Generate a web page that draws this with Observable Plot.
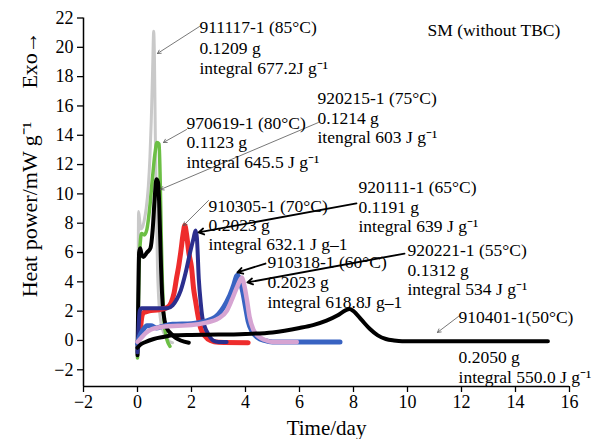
<!DOCTYPE html>
<html>
<head>
<meta charset="utf-8">
<script src="https://cdn.jsdelivr.net/npm/d3@7"></script>
<script src="https://cdn.jsdelivr.net/npm/@observablehq/plot@0.6"></script>
<style>
  html, body { margin: 0; padding: 0; background: #fff; }
  #chart { width: 604px; height: 439px; }
  #chart svg, #chart svg text { font-family: "Liberation Serif", "Times New Roman", serif !important; }
</style>
</head>
<body>
<div id="chart"></div>
<script>
// ---- Data ----
const xTicks = [-2, 0, 2, 4, 6, 8, 10, 12, 14, 16];
const yTicks = [-2, 0, 2, 4, 6, 8, 10, 12, 14, 16, 18, 20, 22];
const xDomain = [-2, 16];
const yDomain = [-3.14, 22];

// 911117-1 (85°C) grey
const s85 = [[0,-1.0],[0.02,3],[0.04,8.8],[0.08,8.2],[0.12,7.6],[0.18,7.7],[0.25,8.2],[0.32,9.0],[0.4,10.5],[0.46,12.5],[0.51,15],[0.56,18.5],[0.6,21.1],[0.63,19],[0.66,14],[0.7,9],[0.74,5],[0.78,3],[0.84,1.6],[0.92,0.8],[1.0,0.4],[1.1,0.1],[1.2,-0.1],[1.3,-0.15]];
// 970619-1 (80°C) green
const s80 = [[0,-1.2],[0.03,2],[0.06,5],[0.1,6.6],[0.15,7.3],[0.25,7.2],[0.35,7.6],[0.45,9],[0.55,11],[0.65,12.8],[0.72,13.5],[0.8,13.4],[0.84,11],[0.88,7],[0.92,4],[0.96,2],[1.0,1.0],[1.05,0.4],[1.1,0],[1.2,-0.4]];
// 920215-1 (75°C) black
const s75 = [[0,-1.0],[0.03,3],[0.06,6.0],[0.1,6.3],[0.15,5.9],[0.22,5.7],[0.35,6.0],[0.48,6.3],[0.56,7.5],[0.63,9.5],[0.7,11.0],[0.76,10.8],[0.8,9.5],[0.84,7],[0.88,4.5],[0.93,2.5],[1.0,1.4],[1.1,0.8],[1.22,0.5],[1.4,0.2],[1.6,0.0],[1.9,-0.15]];
// 910305-1 (70°C) red
const s70 = [[0.1,0.5],[0.15,1.5],[0.22,1.9],[0.4,2.0],[0.8,2.1],[1.1,2.25],[1.25,2.6],[1.35,3.2],[1.45,4.3],[1.52,5.0],[1.6,6.0],[1.7,7.4],[1.75,7.85],[1.82,7.2],[1.9,6.0],[2.0,5.0],[2.08,3.5],[2.15,2.7],[2.25,1.6],[2.33,0.9],[2.5,0.3],[2.7,0.0],[3.0,-0.12],[4.1,-0.15]];
// 920111-1 (65°C) navy
const s65 = [[0,-0.8],[0.03,0.5],[0.08,2.0],[0.15,2.2],[0.5,2.2],[1.1,2.2],[1.3,2.4],[1.45,2.8],[1.6,3.4],[1.78,4.6],[1.96,6.1],[2.08,7.0],[2.15,7.5],[2.2,7.0],[2.27,4.2],[2.34,2.6],[2.4,1.6],[2.5,0.9],[2.6,0.5],[2.8,0.0],[3.0,-0.1],[3.3,-0.1]];
// 910318-1 (60°C) medium blue
const s60 = [[0,-0.2],[0.08,0.3],[0.2,0.7],[0.35,1.0],[0.5,1.0],[0.7,0.85],[0.9,0.95],[1.3,1.1],[2.0,1.15],[2.5,1.3],[2.8,1.5],[3.0,1.8],[3.2,2.3],[3.4,3.0],[3.55,3.7],[3.7,4.45],[3.8,4.1],[3.9,3.3],[4.0,2.3],[4.1,1.3],[4.25,0.6],[4.45,0.2],[4.7,0.0],[5.0,-0.1],[7.5,-0.1]];
// 920221-1 (55°C) pink
const s55 = [[0,-0.1],[0.15,0.2],[0.3,0.5],[0.5,0.75],[0.7,0.85],[1.0,0.95],[1.5,1.0],[2.0,1.05],[2.5,1.2],[3.0,1.5],[3.3,2.0],[3.5,2.8],[3.7,3.7],[3.87,4.3],[3.95,3.8],[4.05,2.8],[4.15,1.6],[4.3,0.7],[4.5,0.25],[4.7,0.05],[5.0,-0.1],[5.9,-0.1]];
// 910401-1 (50°C) black
const s50 = [[0,-0.5],[0.1,-0.3],[0.3,-0.1],[0.6,0.1],[1.0,0.25],[1.3,0.35],[2.0,0.38],[3.0,0.4],[4.0,0.45],[5.0,0.55],[6.0,0.85],[6.5,1.05],[7.0,1.35],[7.4,1.7],[7.7,2.05],[7.85,2.15],[8.0,2.0],[8.3,1.4],[8.6,0.8],[8.9,0.35],[9.2,0.1],[9.5,0.0],[9.8,-0.05],[15.2,-0.05]];

// annotation text lines
const annoLines = [
  {x: 2.296, y: 21.35, text: "911117-1 (85°C)"},
  {x: 2.296, y: 19.95, text: "0.1209 g"},
  {x: 2.296, y: 18.55, text: "integral 677.2J g⁻¹"},
  {x: 10.74, y: 21.15, text: "SM (without TBC)"},
  {x: 1.815, y: 14.82, text: "970619-1 (80°C)"},
  {x: 1.815, y: 13.53, text: "0.1123 g"},
  {x: 1.815, y: 12.16, text: "integral 645.5 J g⁻¹"},
  {x: 6.667, y: 16.51, text: "920215-1 (75°C)"},
  {x: 6.667, y: 15.14, text: "0.1214 g"},
  {x: 6.667, y: 13.85, text: "itengral 603 J g⁻¹"},
  {x: 2.63, y: 9.14, text: "910305-1 (70°C)"},
  {x: 2.63, y: 7.84, text: "0.2023 g"},
  {x: 2.63, y: 6.55, text: "integral 632.1 J g–1"},
  {x: 8.185, y: 10.44, text: "920111-1 (65°C)"},
  {x: 8.185, y: 9.07, text: "0.1191 g"},
  {x: 8.185, y: 7.78, text: "integral 639 J g⁻¹"},
  {x: 4.815, y: 5.32, text: "910318-1 (60°C)"},
  {x: 4.815, y: 3.96, text: "0.2023 g"},
  {x: 4.815, y: 2.59, text: "integral 618.8J g–1"},
  {x: 10.0, y: 6.14, text: "920221-1 (55°C)"},
  {x: 10.0, y: 4.77, text: "0.1312 g"},
  {x: 10.0, y: 3.48, text: "integral 534 J g⁻¹"},
  {x: 11.89, y: 1.57, text: "910401-1(50°C)"},
  {x: 11.89, y: -1.16, text: "0.2050 g"},
  {x: 11.89, y: -2.52, text: "integral 550.0 J g⁻¹"}
];
// thin grey leader arrows
const thinLeaders = [
  {x1: 2.296, y1: 21.42, x2: 0.74, y2: 19.58},
  {x1: 1.815, y1: 14.39, x2: 0.963, y2: 13.51},
  {x1: 6.70, y1: 14.87, x2: 0.852, y2: 10.30},
  {x1: 2.63, y1: 9.55, x2: 1.70, y2: 7.84},
  {x1: 11.89, y1: 1.64, x2: 11.11, y2: 0.55}
];
// thick black leader lines
const thickLeaders = [
  {x1: 8.11, y1: 9.35, x2: 2.26, y2: 7.37},
  {x1: 4.74, y1: 5.25, x2: 3.70, y2: 4.64},
  {x1: 9.89, y1: 5.93, x2: 4.07, y2: 3.96}
];

const yLabel = "Heat power/mW g⁻¹\u00a0\u00a0\u00a0\u00a0\u00a0\u00a0Exo→";
const xLabel = "Time/day";

const FONT = "Liberation Serif";
const fmt = d => d < 0 ? "−" + (-d) : String(d);
const curve = "monotone-x";
const line = (data, stroke, w) => Plot.line(data, {x: d => d[0], y: d => d[1], stroke, strokeWidth: w, curve, strokeLinejoin: "round"});

const chart = Plot.plot({
  width: 604,
  height: 439,
  marginLeft: 83,
  marginRight: 35,
  marginTop: 17.5,
  marginBottom: 53,
  style: {fontFamily: FONT, fontSize: "17.5px", color: "black", background: "white"},
  x: {domain: xDomain},
  y: {domain: yDomain},
  marks: [
    Plot.axisX({ticks: xTicks, tickSize: 6, tickPadding: 3, tickFormat: fmt, label: null, strokeWidth: 1.3, fontSize: 18, fontFamily: FONT}),
    Plot.axisY({ticks: yTicks, tickSize: 6, tickPadding: 4, tickFormat: fmt, label: null, strokeWidth: 1.3, fontSize: 18, fontFamily: FONT}),
    Plot.ruleX([xDomain[0]], {strokeWidth: 1.5}),
    Plot.ruleY([yDomain[0]], {strokeWidth: 1.5}),
    line(s85, "#c9c9c9", 3),
    line(s80, "#6cbf45", 3.5),
    line(s75, "#000000", 4),
    line(s70, "#ee2c2c", 5),
    line(s65, "#2b2f8e", 4),
    line(s60, "#3963c2", 5),
    line(s55, "#d6a4d2", 4.5),
    line(s50, "#000000", 4),
    Plot.arrow(thinLeaders, {x1: "x1", y1: "y1", x2: "x2", y2: "y2", stroke: "#555", strokeWidth: 0.8, headLength: 7}),
    Plot.arrow(thickLeaders, {x1: "x1", y1: "y1", x2: "x2", y2: "y2", stroke: "#000", strokeWidth: 1.8, headLength: 5}),
    Plot.text(annoLines, {x: "x", y: "y", text: "text", textAnchor: "start", lineAnchor: "middle", fontSize: 17.5, fontFamily: FONT, fill: "black"}),
    Plot.text([yLabel], {frameAnchor: "left", rotate: -90, dx: -54, dy: -38, fontSize: 22, fontFamily: FONT, textAnchor: "middle", lineAnchor: "middle", fill: "black"}),
    Plot.text([xLabel], {frameAnchor: "bottom", dy: 42, fontSize: 21, fontFamily: FONT, textAnchor: "middle", lineAnchor: "middle", fill: "black"})
  ]
});
document.getElementById("chart").appendChild(chart);
</script>
</body>
</html>
